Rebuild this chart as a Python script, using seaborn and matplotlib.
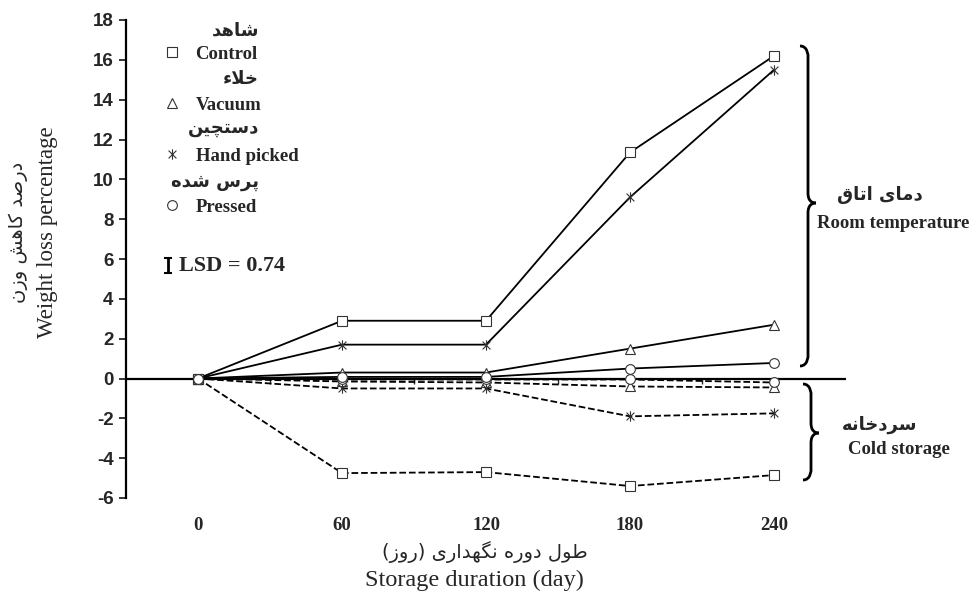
import seaborn as sns
import matplotlib.pyplot as plt
import pandas as pd
from matplotlib.lines import Line2D
from matplotlib.path import Path
from matplotlib.patches import PathPatch

# ---- data ----
days = ['0', '60', '120', '180', '240']
treatments = ['Control', 'Vacuum', 'Hand picked', 'Pressed']
treatments_fa = ['شاهد', 'خلاء', 'دستچین', 'پرس شده']

room_control = [0, 2.9, 2.9, 11.35, 16.2]
room_vacuum = [0, 0.3, 0.3, 1.5, 2.7]
room_hand = [0, 1.7, 1.7, 9.1, 15.5]
room_pressed = [0, 0.08, 0.08, 0.5, 0.78]

cold_control = [0, -4.75, -4.7, -5.4, -4.85]
cold_vacuum = [0, -0.15, -0.2, -0.4, -0.45]
cold_hand = [0, -0.5, -0.5, -1.9, -1.75]
cold_pressed = [0, -0.05, -0.05, -0.05, -0.2]

lsd = 0.74

# ---- minimal Persian shaping (matplotlib has no bidi/shaping) ----
FORMS = {
    'ء': ('\uFE80', None, None, None),
    'ا': ('\uFE8D', '\uFE8E', None, None),
    'ت': ('\uFE95', '\uFE96', '\uFE97', '\uFE98'),
    'خ': ('\uFEA5', '\uFEA6', '\uFEA7', '\uFEA8'),
    'د': ('\uFEA9', '\uFEAA', None, None),
    'ر': ('\uFEAD', '\uFEAE', None, None),
    'ز': ('\uFEAF', '\uFEB0', None, None),
    'س': ('\uFEB1', '\uFEB2', '\uFEB3', '\uFEB4'),
    'ش': ('\uFEB5', '\uFEB6', '\uFEB7', '\uFEB8'),
    'ص': ('\uFEB9', '\uFEBA', '\uFEBB', '\uFEBC'),
    'ط': ('\uFEC1', '\uFEC2', '\uFEC3', '\uFEC4'),
    'ق': ('\uFED5', '\uFED6', '\uFED7', '\uFED8'),
    'ل': ('\uFEDD', '\uFEDE', '\uFEDF', '\uFEE0'),
    'م': ('\uFEE1', '\uFEE2', '\uFEE3', '\uFEE4'),
    'ن': ('\uFEE5', '\uFEE6', '\uFEE7', '\uFEE8'),
    'ه': ('\uFEE9', '\uFEEA', '\uFEEB', '\uFEEC'),
    'و': ('\uFEED', '\uFEEE', None, None),
    'پ': ('\uFB56', '\uFB57', '\uFB58', '\uFB59'),
    'چ': ('\uFB7A', '\uFB7B', '\uFB7C', '\uFB7D'),
    'ک': ('\uFB8E', '\uFB8F', '\uFB90', '\uFB91'),
    'گ': ('\uFB92', '\uFB93', '\uFB94', '\uFB95'),
    'ی': ('\uFBFC', '\uFBFD', '\uFBFE', '\uFBFF'),
}


def dual(c):
    return c in FORMS and FORMS[c][2] is not None


def fa(text):
    out = []
    i = 0
    while i < len(text):
        c = text[i]
        if c not in FORMS:
            out.append(c)
            i += 1
            continue
        prev = text[i - 1] if i > 0 else ''
        joins_prev = dual(prev) and c != 'ء'
        if c == 'ل' and i + 1 < len(text) and text[i + 1] == 'ا':
            out.append('\uFEFC' if joins_prev else '\uFEFB')
            i += 2
            continue
        nxt = text[i + 1] if i + 1 < len(text) else ''
        joins_next = dual(c) and nxt in FORMS and nxt != 'ء'
        iso, fin, ini, med = FORMS[c]
        if joins_prev and joins_next:
            out.append(med)
        elif joins_prev:
            out.append(fin)
        elif joins_next:
            out.append(ini)
        else:
            out.append(iso)
        i += 1
    s = ''.join(reversed(out))
    return s.translate(str.maketrans('()', ')('))


# ---- figure ----
W, H = 972, 596
sns.set_style('white')
plt.rcParams['font.family'] = ['Liberation Serif', 'DejaVu Sans']
plt.rcParams['axes.unicode_minus'] = False
fig = plt.figure(figsize=(W / 100, H / 100), dpi=100)
ax = fig.add_axes([126 / W, 1 - 498 / H, 720 / W, 478 / H])


def px(x, y):
    return x / W, 1 - y / H


star = Path([(0, -1), (0, 1), (-0.75, -0.75), (0.75, 0.75), (-0.75, 0.75), (0.75, -0.75)],
            [Path.MOVETO, Path.LINETO, Path.MOVETO, Path.LINETO, Path.MOVETO, Path.LINETO])
markers = {'Control': 's', 'Vacuum': '^', 'Hand picked': star, 'Pressed': 'o'}
msizes = {'Control': 6.5, 'Vacuum': 7, 'Hand picked': 7.5, 'Pressed': 7}
edge = '#333333'

xpos = list(range(len(days)))
room = {'Control': room_control, 'Vacuum': room_vacuum,
        'Hand picked': room_hand, 'Pressed': room_pressed}
cold = {'Control': cold_control, 'Vacuum': cold_vacuum,
        'Hand picked': cold_hand, 'Pressed': cold_pressed}

for ls, group in [('--', cold), ('-', room)]:
    for name in treatments:
        sns.lineplot(x=xpos, y=group[name], ax=ax, color='black', linewidth=1.3,
                     linestyle=ls, marker=markers[name], markersize=msizes[name],
                     markerfacecolor='white', markeredgecolor=edge,
                     markeredgewidth=0.8, zorder=3)

ax.axhline(0, color='black', linewidth=1.6, zorder=2)

# spine placement first: set_position resets the ticks
for s in ['right', 'bottom']:
    ax.spines[s].set_visible(False)
ax.spines['top'].set_position(('data', 0))
ax.spines['top'].set_visible(False)
ax.spines['left'].set_linewidth(1.6)
ax.spines['left'].set_color('black')

ax.set_xlim(-0.5, len(days) - 0.5)
ax.set_ylim(-6, 18)
ax.set_yticks(range(-6, 19, 2))
ax.set_xticks(xpos)
ax.set_xticklabels(days)
ax.set_xticks([p + 0.5 for p in xpos[:-1]], minor=True)
ax.tick_params(axis='y', which='major', direction='out', length=5, width=1.3, left=True,
               pad=4, labelsize=13.5)
ax.tick_params(axis='x', which='major', length=0, pad=14, labelsize=13.5)
ax.tick_params(axis='x', which='minor', top=True, bottom=False, direction='in',
               length=4, width=1)
for lab in ax.get_yticklabels():
    lab.set_family(['Liberation Sans', 'DejaVu Sans'])
    lab.set_fontweight('bold')
for lab in ax.get_xticklabels():
    lab.set_fontweight('bold')
ax.set_xlabel('')
ax.set_ylabel('')

# legend
handles = [Line2D([], [], marker=markers[n], ls='', markersize=msizes[n],
                  markerfacecolor='white', markeredgecolor=edge, markeredgewidth=0.8)
           for n in treatments]
leg = ax.legend(handles, treatments, loc='upper left', bbox_to_anchor=(0.051, 0.946),
                frameon=False, handlelength=1.0, handletextpad=0.75, labelspacing=1.8,
                prop={'family': 'Liberation Serif', 'weight': 'bold', 'size': 13.5},
                borderpad=0, borderaxespad=0)

fa_rows = [31, 79, 128, 182]
for label, y in zip(treatments_fa, fa_rows):
    fig.text(*px(259, y), fa(label), ha='right', va='center', family='DejaVu Sans',
             fontweight='bold', fontsize=13)

# LSD bar
ax.errorbar([-0.21], [5.67], yerr=lsd / 2, color='black', capsize=3, elinewidth=2,
            capthick=1.5, fmt='none')
ax.text(-0.13, 5.67, 'LSD = 0.74', ha='left', va='center', fontweight='bold', fontsize=16)


# braces
def brace(x0, top, bottom, tip_y, w=16):
    xm = x0 + w / 2
    xt = x0 + w
    r = 10
    up = Path([px(x0, top), px(xm, top), px(xm, top + r), px(xm, top + r),
               px(xm, tip_y - r), px(xm, tip_y - 2), px(xt - 4, tip_y), px(xt, tip_y)],
              [Path.MOVETO, Path.CURVE4, Path.CURVE4, Path.CURVE4,
               Path.LINETO, Path.CURVE4, Path.CURVE4, Path.CURVE4])
    down = Path([px(xt, tip_y), px(xt - 4, tip_y), px(xm, tip_y + 2), px(xm, tip_y + r),
                 px(xm, bottom - r), px(xm, bottom - r), px(xm, bottom), px(x0, bottom)],
                [Path.MOVETO, Path.CURVE4, Path.CURVE4, Path.CURVE4,
                 Path.LINETO, Path.CURVE4, Path.CURVE4, Path.CURVE4])
    for p in (up, down):
        fig.add_artist(PathPatch(p, transform=fig.transFigure, fill=False,
                                 edgecolor='black', linewidth=2))


brace(800, 46, 366, 203)
brace(803, 384, 480, 433)

fig.text(*px(880, 195), fa('دمای اتاق'), ha='center', va='center', family='DejaVu Sans',
         fontweight='bold', fontsize=13)
fig.text(*px(893, 223), 'Room temperature', ha='center', va='center',
         fontweight='bold', fontsize=13.5)
fig.text(*px(880, 425), fa('سردخانه'), ha='center', va='center', family='DejaVu Sans',
         fontweight='bold', fontsize=13)
fig.text(*px(899, 449), 'Cold storage', ha='center', va='center',
         fontweight='bold', fontsize=13.5)

# axis titles
fig.text(*px(18, 232), fa('درصد کاهش وزن'), rotation=90, ha='center', va='center',
         family='DejaVu Sans', fontsize=14)
fig.text(*px(48, 232), 'Weight loss percentage', rotation=90, ha='center', va='center',
         fontsize=16.5)
fig.text(*px(485, 552), fa('طول دوره نگهداری (روز)'), ha='center', va='center',
         family='DejaVu Sans', fontsize=14)
fig.text(*px(474, 580), 'Storage duration (day)', ha='center', va='center', fontsize=17.5)

fig.savefig('out.png', dpi=100)
